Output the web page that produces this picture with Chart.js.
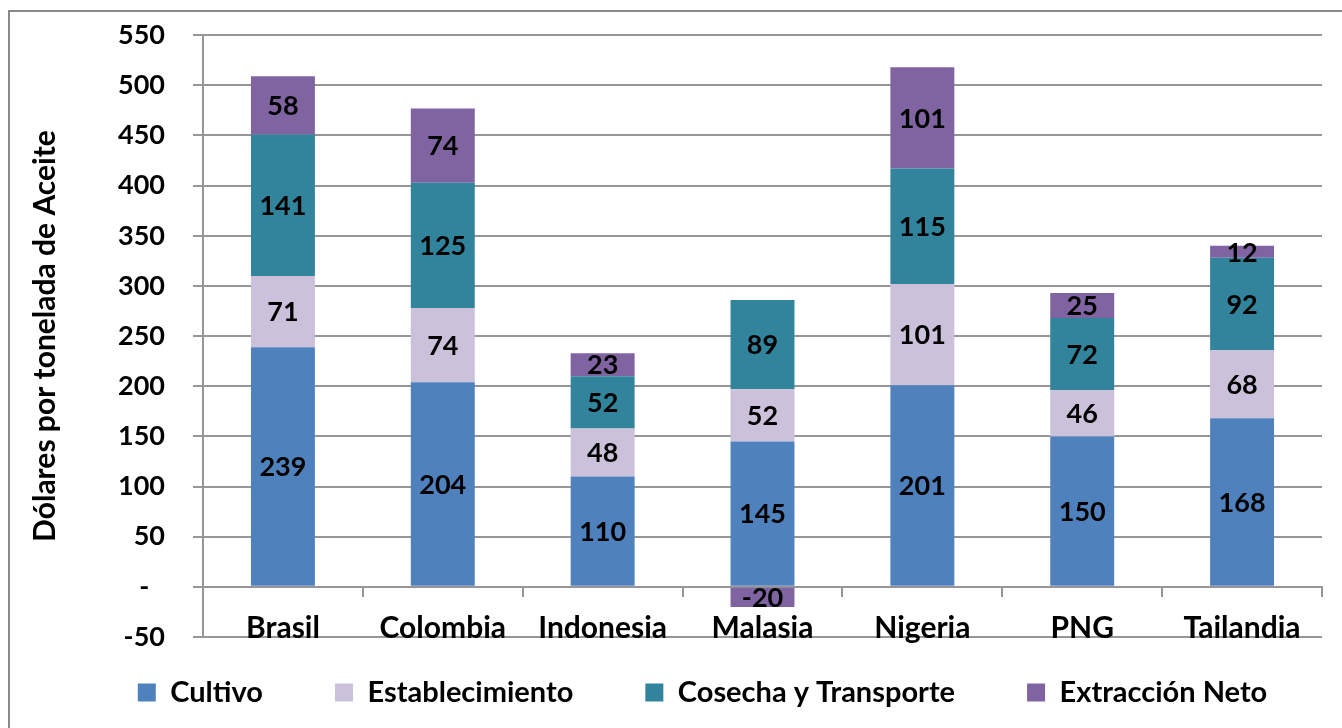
<!DOCTYPE html>
<html>
<head>
<meta charset="utf-8">
<script src="https://cdn.jsdelivr.net/npm/chart.js@4.4.1/dist/chart.umd.min.js"></script>
<style>
  html, body { margin: 0; padding: 0; background: #ffffff; overflow: hidden; }
  #wrap { position: absolute; left: 0; top: 0; width: 1342px; height: 728px; overflow: hidden; }
  #frame { position: absolute; left: 8px; top: 10px; width: 1340px; height: 730px; border: 2px solid #8a8a8a; pointer-events: none; }
  canvas { position: absolute; left: 0; top: 0; }
</style>
</head>
<body>
<div id="wrap">
  <canvas id="c" width="1342" height="728"></canvas>
  <div id="frame"></div>
</div>
<script>
const categories = ['Brasil', 'Colombia', 'Indonesia', 'Malasia', 'Nigeria', 'PNG', 'Tailandia'];
const cultivo = [239, 204, 110, 145, 201, 150, 168];
const establecimiento = [71, 74, 48, 52, 101, 46, 68];
const cosechaTransporte = [141, 125, 52, 89, 115, 72, 92];
const extraccionNeto = [58, 74, 23, -20, 101, 25, 12];
const seriesNames = ['Cultivo', 'Establecimiento', 'Cosecha y Transporte', 'Extracción Neto'];
const seriesColors = ['#4F81BD', '#CCC1DA', '#31849B', '#8064A2'];
const yTitle = 'Dólares por tonelada de Aceite';

const FONT = 'Lato';
const GRID = '#969696';

const dataLabels = {
  id: 'dataLabels',
  afterDatasetsDraw(chart) {
    const ctx = chart.ctx;
    ctx.save();
    ctx.font = 'bold 27px ' + FONT;
    ctx.fillStyle = '#000000';
    ctx.textAlign = 'center';
    ctx.textBaseline = 'middle';
    chart.data.datasets.forEach((ds, i) => {
      const meta = chart.getDatasetMeta(i);
      meta.data.forEach((bar, j) => {
        const p = bar.getProps(['x', 'y', 'base'], true);
        ctx.fillText(String(ds.data[j]), p.x, (p.y + p.base) / 2 + 1);
      });
    });
    ctx.restore();
  }
};

const legendPlace = {
  id: 'legendPlace',
  afterLayout(chart) {
    const lg = chart.legend;
    if (!lg) return;
    lg.left += 30;
    lg.right += 30;
    lg.top = 606;
    lg.bottom = 728;
  }
};

new Chart(document.getElementById('c'), {
  type: 'bar',
  data: {
    labels: categories,
    datasets: [
      { label: seriesNames[0], data: cultivo, backgroundColor: seriesColors[0] },
      { label: seriesNames[1], data: establecimiento, backgroundColor: seriesColors[1] },
      { label: seriesNames[2], data: cosechaTransporte, backgroundColor: seriesColors[2] },
      { label: seriesNames[3], data: extraccionNeto, backgroundColor: seriesColors[3] }
    ]
  },
  options: {
    responsive: false,
    animation: false,
    devicePixelRatio: 1,
    categoryPercentage: 0.4,
    barPercentage: 1.0,
    borderWidth: 0,
    layout: { padding: { left: 23, right: 20, top: 35, bottom: 31 } },
    plugins: {
      tooltip: { enabled: false },
      legend: {
        position: 'bottom',
        maxHeight: 60,
        labels: {
          boxWidth: 18,
          boxHeight: 18,
          padding: 72,
          color: '#000000',
          font: { family: FONT, size: 29, weight: 'bold' }
        }
      }
    },
    scales: {
      x: {
        stacked: true,
        position: { y: 0 },
        grid: { drawOnChartArea: false, drawTicks: true, tickLength: 9, color: GRID, lineWidth: 2, offset: true },
        border: { display: true, color: GRID, width: 2 },
        ticks: { color: '#000000', padding: 14, font: { family: FONT, size: 30, weight: 'bold' }, maxRotation: 0, autoSkip: false }
      },
      y: {
        stacked: true,
        min: -50,
        max: 550,
        afterFit(scale) { scale.width = 180; },
        grid: { color: GRID, lineWidth: 2, tickLength: 19, tickBorderDash: [9, 10], tickBorderDashOffset: 10 },
        border: { display: true, color: GRID, width: 2 },
        ticks: {
          stepSize: 50,
          padding: 19,
          color: '#000000',
          font: { family: FONT, size: 27, weight: 'bold' },
          callback: (v) => (v === 0 ? '-\u2007' : String(v))
        },
        title: {
          display: true,
          text: yTitle,
          color: '#000000',
          font: { family: FONT, size: 30, weight: 'bold' },
          padding: { top: 4, bottom: 4 }
        }
      }
    }
  },
  plugins: [dataLabels, legendPlace]
});
</script>
</body>
</html>
